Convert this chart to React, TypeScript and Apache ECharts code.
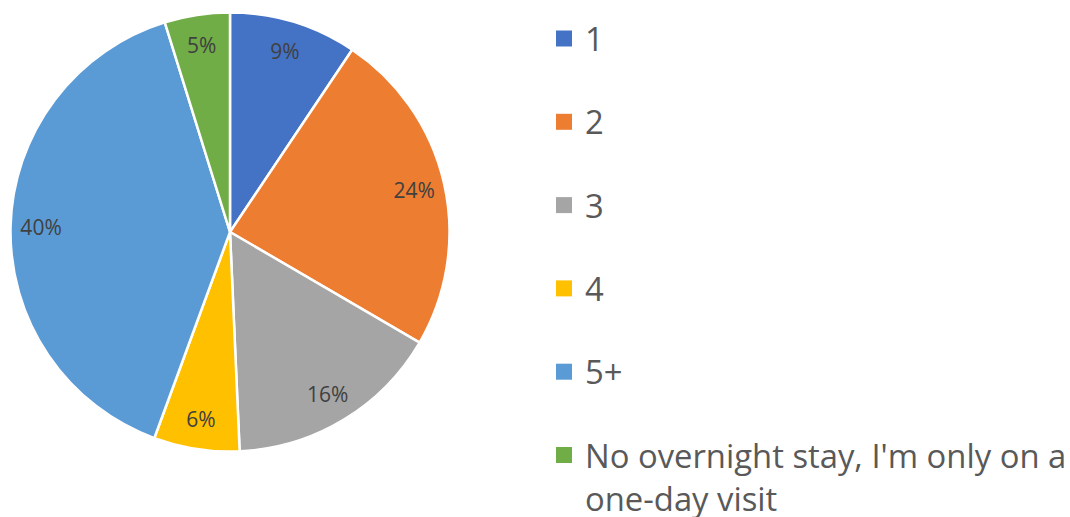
import React, { useEffect, useRef } from "react";
import * as echarts from "echarts";

const categories = ["1", "2", "3", "4", "5+", "No overnight stay, I'm only on a one-day visit"];
const values = [9.4, 24.0, 15.9, 6.3, 39.6, 4.8];
const colors = ["#4472C4", "#ED7D31", "#A5A5A5", "#FFC000", "#5B9BD5", "#70AD47"];

const FONT = "'Open Sans', 'Noto Sans', sans-serif";

export default function App() {
  const ref = useRef<HTMLDivElement>(null);
  useEffect(() => {
    if (!ref.current) return;
    const chart = echarts.init(ref.current, undefined, { renderer: "svg" });
    const data = categories.map((name, i) => ({ name, value: values[i], itemStyle: { color: colors[i] } }));
    const total = values.reduce((a, b) => a + b, 0);
    chart.setOption({
      animation: false,
      backgroundColor: "#ffffff",
      legend: [
        {
          orient: "vertical",
          left: 556,
          top: 17,
          padding: 0,
          itemWidth: 16,
          itemHeight: 16,
          itemGap: 40.3,
          icon: "rect",
          selectedMode: false,
          itemStyle: { borderWidth: 0 },
          data: categories.slice(0, 5),
          textStyle: { fontFamily: FONT, fontSize: 32.8, lineHeight: 43, color: "#595959", padding: [0, 0, 0, 8] },
        },
        {
          orient: "vertical",
          left: 556,
          top: 390.5,
          padding: 0,
          itemWidth: 16,
          itemHeight: 16,
          icon: "rect",
          selectedMode: false,
          itemStyle: { borderWidth: 0 },
          data: categories.slice(5),
          formatter: () => "\nNo overnight stay, I'm only on a\none-day visit",
          textStyle: { fontFamily: FONT, fontSize: 32.8, lineHeight: 43, color: "#595959", padding: [0, 0, 0, 8] },
        },
      ],
      series: [
        {
          type: "pie",
          center: [230, 232],
          radius: [0, 219.5],
          startAngle: 90,
          clockwise: true,
          silent: true,
          label: { show: false },
          labelLine: { show: false },
          itemStyle: { borderColor: "#ffffff", borderWidth: 2.5 },
          data,
        },
        {
          type: "pie",
          center: [230, 232],
          radius: [156, 216],
          startAngle: 90,
          clockwise: true,
          silent: true,
          legendHoverLink: false,
          itemStyle: { color: "rgba(0,0,0,0)", borderWidth: 0 },
          label: {
            show: true,
            position: "inside",
            fontFamily: FONT,
            fontSize: 21,
            color: "#404040",
            formatter: (p: any) => Math.round((p.value / total) * 100) + "%",
          },
          labelLine: { show: false },
          data: categories.map((name, i) => ({ name, value: values[i] })),
        },
      ],
    });
    return () => chart.dispose();
  }, []);
  return (
    <div
      ref={ref}
      style={{ position: "fixed", left: 0, top: 0, width: 1070, height: 517, background: "#fff" }}
    />
  );
}
